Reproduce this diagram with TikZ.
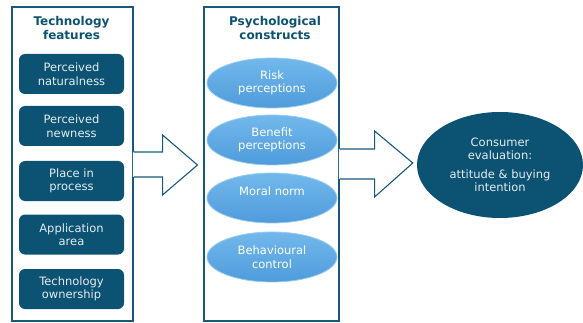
\documentclass[tikz,border=0pt]{standalone}
\usepackage{fontspec}
\setmainfont{DejaVu Sans}
\usetikzlibrary{calc,shapes.geometric}
\definecolor{tealdark}{HTML}{0C5272}
\definecolor{tealline}{HTML}{16597A}
\definecolor{paletext}{HTML}{E4EDF2}
\definecolor{skytop}{HTML}{72B8EC}
\definecolor{skybot}{HTML}{4F9BDB}
\definecolor{skyrim}{HTML}{98CCF0}
\tikzset{
  panel/.style={draw=tealline, line width=1.1pt, minimum width=#1, minimum height=314pt, inner sep=0pt},
  paneltitle/.style={text=tealdark, font=\fontsize{12}{14}\selectfont\bfseries, align=center},
  featurebox/.style={fill=tealdark, rounded corners=6pt, minimum width=105pt, minimum height=40pt,
    inner sep=0pt, text=paletext, align=center, font=\fontsize{11.5}{13.5}\selectfont},
  construct/.style={ellipse, top color=skytop, bottom color=skybot, draw=skyrim, line width=0.8pt,
    minimum width=130pt, minimum height=50pt, inner sep=0pt, text=white, align=center,
    font=\fontsize{11.5}{13.5}\selectfont},
  constructtext/.style={text=white, align=center, font=\fontsize{11.5}{13.5}\selectfont, inner sep=0pt},
  outcome/.style={ellipse, fill=tealdark, minimum width=166pt, minimum height=106pt, inner sep=0pt,
    text=paletext, align=center, font=\fontsize{11.5}{13.5}\selectfont},
  blockarrow/.style={draw=tealline, line width=1.1pt, line join=miter}
}
\begin{document}
\begin{tikzpicture}[x=1pt,y=-1pt]
\useasboundingbox (0,0) rectangle (583,323);

% left column: technology features
\node[panel=121pt] (leftbox) at (72.5,164) {};
\node[paneltitle] (lefttitle) at (71.5,28.5) {Technology\\features};
\node[featurebox] (natural) at (71.5,74) {Perceived\\naturalness};
\node[featurebox] (newness) at (71.5,126) {Perceived\\newness};
\node[featurebox] (place) at (71.5,181) {Place in\\process};
\node[featurebox] (area) at (71.5,234.5) {Application\\area};
\node[featurebox] (owner) at (71.5,289) {Technology\\ownership};

% middle column: psychological constructs
\node[panel=135pt] (midbox) at (271.5,164) {};
\node[paneltitle] (midtitle) at (275,28) {Psychological\\constructs};
\node[construct] (risk) at (272,83) {Risk\\perceptions};
\node[construct] (benefit) at (272,140) {Benefit\\perceptions};
\node[construct] (moral) at (272,198) {};
\node[constructtext] (moraltext) at ($(moral.center)+(0,-7)$) {Moral norm};
\node[construct] (control) at (272,257) {Behavioural\\control};

% right: outcome
\node[outcome] (evaluation) at (500,165) {Consumer\\evaluation:\\[5pt]attitude \& buying\\intention};

% block arrow from features to constructs
\fill[white] ($(leftbox.east)+(-0.6,-12)$) -- ($(leftbox.east)+(29,-12)$) -- ($(leftbox.east)+(29,-29)$)
  -- ($(leftbox.east)+(65,1)$) -- ($(leftbox.east)+(29,31)$) -- ($(leftbox.east)+(29,13)$)
  -- ($(leftbox.east)+(-0.6,13)$) -- cycle;
\draw[blockarrow] ($(leftbox.east)+(0,-12)$) -- ($(leftbox.east)+(29,-12)$) -- ($(leftbox.east)+(29,-29)$)
  -- ($(midbox.west)+(-6,1)$) -- ($(leftbox.east)+(29,31)$) -- ($(leftbox.east)+(29,13)$)
  -- ($(leftbox.east)+(0,13)$);

% block arrow from constructs to evaluation
\fill[white] ($(midbox.east)+(-0.6,-15)$) -- ($(midbox.east)+(35,-15)$) -- ($(midbox.east)+(35,-33)$)
  -- ($(midbox.east)+(74,-1)$) -- ($(midbox.east)+(35,33)$) -- ($(midbox.east)+(35,15)$)
  -- ($(midbox.east)+(-0.6,15)$) -- cycle;
\draw[blockarrow] ($(midbox.east)+(0,-15)$) -- ($(midbox.east)+(35,-15)$) -- ($(midbox.east)+(35,-33)$)
  -- ($(evaluation.west)+(-4,-2)$) -- ($(midbox.east)+(35,33)$) -- ($(midbox.east)+(35,15)$)
  -- ($(midbox.east)+(0,15)$);
\end{tikzpicture}
\end{document}
